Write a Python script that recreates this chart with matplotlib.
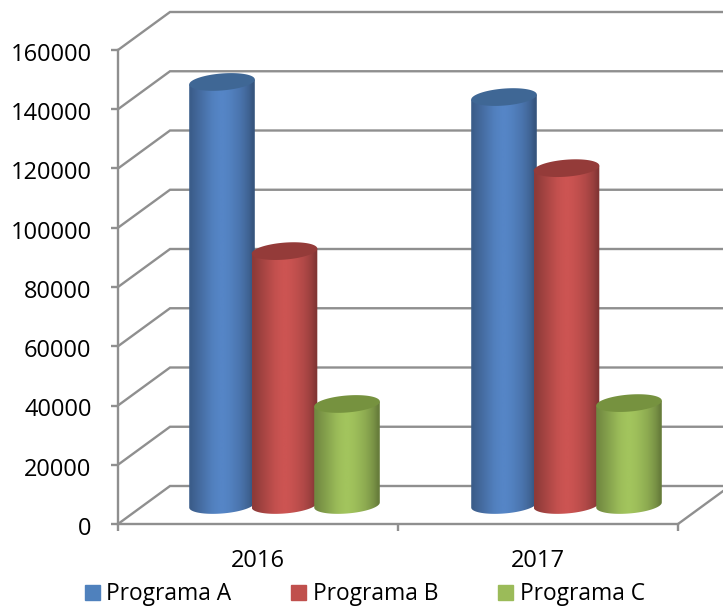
import numpy as np
import matplotlib
matplotlib.use("Agg")
import matplotlib.pyplot as plt
from matplotlib.patches import Patch, Polygon
from matplotlib.transforms import ScaledTranslation

years = ["2016", "2017"]
programas = ["Programa A", "Programa B", "Programa C"]
programa_a = [142800, 137700]
programa_b = [85700, 113700]
programa_c = [34100, 34400]
y_ticks = [0, 20000, 40000, 60000, 80000, 100000, 120000, 140000, 160000]

colours = ["#5585C6", "#CC5452", "#A2C45D"]
legend_colours = ["#4F81BD", "#C0504D", "#9BBB59"]
top_colours = ["#3F6795", "#943B39", "#76923F"]
grey = "#8F8F8F"

plt.rcParams['font.family'] = ['Open Sans', 'DejaVu Sans']

W, H = 723, 607
fig = plt.figure(figsize=(W / 100, H / 100), dpi=100)
# front plane of the 3d box, in pixels: x 118-678, y 50-524
ax = fig.add_axes([118 / W, 1 - 524 / H, 560 / W, 474 / H])
ax.set_xlim(0, 2)
ax.set_ylim(0, 160000)

px_x = 2 / 560  # one pixel in data units
px_y = 160000 / 474
depth_x = 52 * px_x
depth_y = 38 * px_y

# back wall and side wall lines
for v in y_ticks:
    ax.plot([0, depth_x, 2 + depth_x], [v, v + depth_y, v + depth_y], color=grey, lw=1.7,
            clip_on=False, zorder=1, solid_joinstyle='miter')
# floor right edge
ax.plot([2, 2 + depth_x], [0, depth_y], color=grey, lw=1.7, clip_on=False, zorder=1)

for s in ['top', 'right']:
    ax.spines[s].set_visible(False)
for s in ['left', 'bottom']:
    ax.spines[s].set_color(grey)
    ax.spines[s].set_linewidth(1.7)
    ax.spines[s].set_zorder(1)

ax.set_yticks(y_ticks)
ax.set_xticks([0, 1, 2])
ax.set_xticklabels([])
ax.set_xticks([0.5, 1.5], labels=years, minor=True)
ax.tick_params(axis='both', which='major', length=5, width=1.7, color=grey, labelsize=17, pad=15)
ax.tick_params(axis='y', pad=14)
ax.tick_params(axis='x', which='minor', length=0, labelsize=17, pad=18)
# labels sit a little under the tick
shift = ScaledTranslation(0, -2 / 100, fig.dpi_scale_trans)
for lab in ax.get_yticklabels():
    lab.set_transform(lab.get_transform() + shift)

# cylinders
a = 32.8
b = 8.5
k = 2.5
t = np.linspace(0, 2 * np.pi, 90)
shade = np.array([0.70, 0.75, 0.80, 0.85, 0.90, 0.95, 0.98, 1.0, 1.0, 0.98, 0.95, 0.91, 0.87, 0.81, 0.74, 0.64])
step = 62.5 * px_x
pitch = 282 * px_x

for j, values in enumerate([programa_a, programa_b, programa_c]):
    rgb = np.array(matplotlib.colors.to_rgb(colours[j]))
    grad = (shade[:, None] * rgb)[None, :, :]
    for i, v in enumerate(values):
        cx = 0.5 + i * pitch + depth_x / 2 + (j - 1) * step + 0.5 * px_x
        y0 = depth_y / 2
        ex = a * np.cos(t) * px_x
        ey = (b * np.sin(t) + k * np.cos(t)) * px_y
        low = t[(t >= np.pi) & (t <= 2 * np.pi)]
        low_x = a * np.cos(low) * px_x
        low_y = (b * np.sin(low) + k * np.cos(low)) * px_y
        body = np.vstack([
            np.column_stack([cx + low_x, y0 + low_y]),
            [[cx + a * px_x, y0 + v + k * px_y], [cx - a * px_x, y0 + v - k * px_y]],
        ])
        clip = Polygon(body, closed=True, fc='none', ec='none', clip_on=False)
        ax.add_patch(clip)
        im = ax.imshow(grad, extent=[cx - a * px_x, cx + a * px_x, 0, y0 + v + 10 * px_y],
                       aspect='auto', interpolation='bilinear', zorder=3 + j)
        im.set_clip_path(clip)
        ax.add_patch(Polygon(np.column_stack([cx + ex, y0 + v + ey]), closed=True,
                             fc=top_colours[j], ec='none', zorder=3 + j, clip_on=False))

ax.set_xlim(0, 2)
ax.set_ylim(0, 160000)

handles = [Patch(color=c) for c in legend_colours]
fig.legend(handles, programas, loc='lower left', bbox_to_anchor=(80 / W, -0.0065), ncol=3, frameon=False,
           fontsize=16.4, handlelength=0.68, handleheight=0.68, handletextpad=0.28,
           columnspacing=2.61, borderpad=0.2, borderaxespad=0)

fig.savefig("out.png", dpi=100)
